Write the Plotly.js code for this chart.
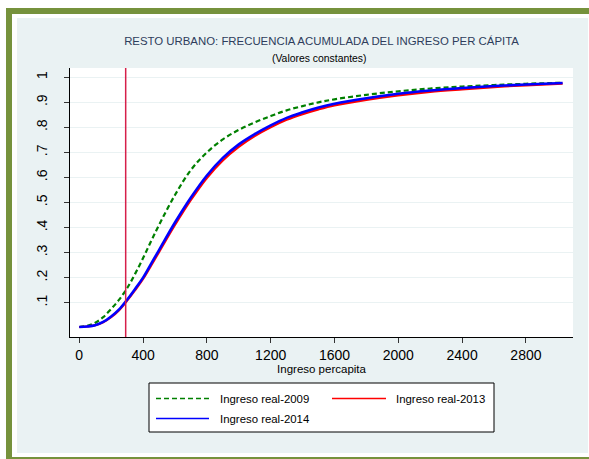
<!DOCTYPE html>
<html>
<head>
<meta charset="utf-8">
<script src="https://cdn.plot.ly/plotly-3.0.1.min.js"></script>
<style>
  html, body { margin: 0; padding: 0; background: #ffffff; }
  #wrap { position: relative; width: 589px; height: 459px; overflow: hidden; background: #ffffff; }
  #gtop { position: absolute; left: 6px; top: 8px; width: 583px; height: 6px; background: #76923C; }
  #gleft { position: absolute; left: 6px; top: 8px; width: 6px; height: 451px; background: #76923C; }
  #gbot { position: absolute; left: 6px; top: 457px; width: 583px; height: 2px; background: #76923C; }
  #inner { position: absolute; left: 17px; top: 18px; width: 571px; height: 435px; background: #EAF2F3; }
  #chart { position: absolute; left: 0; top: 0; width: 589px; height: 459px; }
</style>
</head>
<body>
<div id="wrap">
  <div id="gtop"></div><div id="gleft"></div><div id="gbot"></div>
  <div id="inner"></div>
  <div id="chart"></div>
</div>
<script>
// Ingreso per cápita (valores constantes)
const ingreso = [0, 50, 100, 150, 200, 250, 300, 350, 400, 450, 500, 600, 700, 800, 900, 1000, 1100, 1200, 1300, 1400, 1500, 1600, 1800, 2000, 2200, 2400, 2600, 2800, 3030];
// Frecuencia acumulada por año
const fa2009 = [0.003, 0.008, 0.020, 0.042, 0.075, 0.112, 0.158, 0.215, 0.278, 0.345, 0.410, 0.530, 0.630, 0.700, 0.752, 0.790, 0.820, 0.845, 0.868, 0.885, 0.900, 0.912, 0.930, 0.944, 0.955, 0.963, 0.969, 0.974, 0.978];
const fa2013 = [0.003, 0.005, 0.010, 0.022, 0.042, 0.070, 0.108, 0.150, 0.195, 0.248, 0.302, 0.410, 0.510, 0.598, 0.668, 0.722, 0.765, 0.800, 0.830, 0.853, 0.872, 0.888, 0.910, 0.928, 0.942, 0.952, 0.961, 0.968, 0.975];
const fa2014 = [0.003, 0.005, 0.010, 0.023, 0.045, 0.073, 0.112, 0.155, 0.200, 0.255, 0.310, 0.420, 0.520, 0.608, 0.678, 0.732, 0.773, 0.808, 0.838, 0.860, 0.879, 0.894, 0.916, 0.934, 0.947, 0.957, 0.965, 0.971, 0.977];
const lineaPobreza = 291;
const yTicks = [0.1, 0.2, 0.3, 0.4, 0.5, 0.6, 0.7, 0.8, 0.9, 1];
const yTickText = ['.1', '.2', '.3', '.4', '.5', '.6', '.7', '.8', '.9', '1'];
const xTicks = [0, 400, 800, 1200, 1600, 2000, 2400, 2800];
const series = ['Ingreso real-2009', 'Ingreso real-2013', 'Ingreso real-2014'];

const FONT = 'Liberation Sans, Arial, sans-serif';

const traces = [
  { x: ingreso, y: fa2009, type: 'scatter', mode: 'lines', name: series[0], showlegend: false,
    line: { color: '#008000', width: 2.2, dash: '5px,3px', shape: 'spline' } },
  { x: ingreso, y: fa2013, type: 'scatter', mode: 'lines', name: series[1], showlegend: false,
    line: { color: '#FF0000', width: 2.2, shape: 'spline' } },
  { x: ingreso, y: fa2014, type: 'scatter', mode: 'lines', name: series[2], showlegend: false,
    line: { color: '#0000FF', width: 2.6, shape: 'spline' } }
];

// legend drawn manually (pixel-matched to reference)
const W = 503, H = 269, L = 70, T = 68;
const px = v => (v - L) / W;
const py = v => (T + H - v) / H;

const shapes = [
  { type: 'line', xref: 'x', yref: 'paper', x0: lineaPobreza, x1: lineaPobreza, y0: 0, y1: 1,
    line: { color: '#D61F4A', width: 1.5 } },
  { type: 'rect', xref: 'paper', yref: 'paper', x0: px(149), x1: px(494), y0: py(432), y1: py(383),
    fillcolor: '#ffffff', line: { color: '#000000', width: 1 } },
  { type: 'line', xref: 'paper', yref: 'paper', x0: px(156), x1: px(209), y0: py(398.5), y1: py(398.5),
    line: { color: '#008000', width: 1.5, dash: '5px,3px' } },
  { type: 'line', xref: 'paper', yref: 'paper', x0: px(332), x1: px(386), y0: py(398.5), y1: py(398.5),
    line: { color: '#FF0000', width: 1.5 } },
  { type: 'line', xref: 'paper', yref: 'paper', x0: px(156), x1: px(209), y0: py(418.5), y1: py(418.5),
    line: { color: '#0000FF', width: 1.5 } }
];

const annotations = [
  { text: '(Valores constantes)', xref: 'paper', yref: 'paper', x: px(319), y: py(58.5),
    xanchor: 'center', yanchor: 'middle', showarrow: false, font: { family: FONT, size: 10.4, color: '#000000' } },
  { text: series[0], xref: 'paper', yref: 'paper', x: px(218), y: py(398.5), xanchor: 'left', yanchor: 'middle',
    showarrow: false, font: { family: FONT, size: 11.4, color: '#000000' } },
  { text: series[1], xref: 'paper', yref: 'paper', x: px(394), y: py(398.5), xanchor: 'left', yanchor: 'middle',
    showarrow: false, font: { family: FONT, size: 11.4, color: '#000000' } },
  { text: series[2], xref: 'paper', yref: 'paper', x: px(218), y: py(418.5), xanchor: 'left', yanchor: 'middle',
    showarrow: false, font: { family: FONT, size: 11.4, color: '#000000' } }
];

const layout = {
  width: 589, height: 459,
  margin: { l: 70, r: 16, t: 68, b: 122, pad: 0 },
  paper_bgcolor: 'rgba(0,0,0,0)',
  plot_bgcolor: '#ffffff',
  showlegend: false,
  font: { family: FONT, color: '#000000' },
  title: { text: 'RESTO URBANO: FRECUENCIA ACUMULADA DEL INGRESO PER CÁPITA',
    x: 0.5, xref: 'paper', xanchor: 'center', y: 1 - 41 / 459, yref: 'container', yanchor: 'middle',
    font: { family: FONT, size: 11.4, color: '#2E3D5C' } },
  xaxis: {
    range: [-58, 3095], tickvals: xTicks, ticktext: xTicks.map(String),
    showgrid: false, zeroline: false, showline: true, linecolor: '#000000', linewidth: 1,
    ticks: 'outside', ticklen: 5, tickcolor: '#333333', tickwidth: 1,
    tickfont: { family: FONT, size: 14, color: '#000000' },
    title: { text: 'Ingreso percapita', standoff: 2, font: { family: FONT, size: 11.5, color: '#000000' } }
  },
  yaxis: {
    range: [-0.037, 1.037], tickvals: yTicks, ticktext: yTickText, tickangle: -90,
    ticklabelstandoff: 11,
    showgrid: true, gridcolor: '#EAF2F3', gridwidth: 1.5, zeroline: false,
    showline: true, linecolor: '#000000', linewidth: 1,
    ticks: 'outside', ticklen: 5, tickcolor: '#333333', tickwidth: 1,
    tickfont: { family: FONT, size: 14, color: '#000000' }
  },
  shapes: shapes,
  annotations: annotations
};

Plotly.newPlot('chart', traces, layout, { displayModeBar: false, staticPlot: true });
</script>
</body>
</html>
